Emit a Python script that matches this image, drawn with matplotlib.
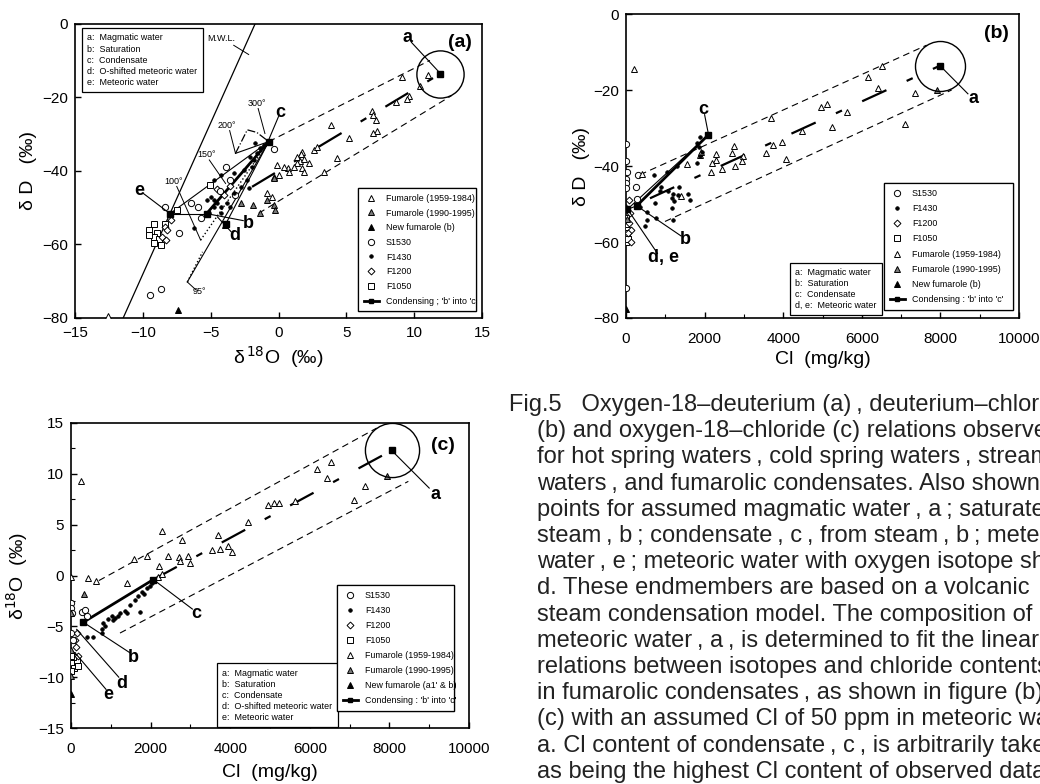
import matplotlib
matplotlib.use('Agg')
import matplotlib.pyplot as plt
from matplotlib.lines import Line2D
from matplotlib.ticker import MultipleLocator

plt.rcParams['font.family'] = ['Liberation Sans', 'DejaVu Sans']
plt.rcParams['mathtext.fontset'] = 'dejavusans'

# ---------------- Panel (a): d18O vs dD ----------------
a_fum1_x = [-12.55, 11.0, 9.12, 10.42, 9.61, 9.49, 8.63, 6.87, 6.99, 7.16, 3.88, 5.16, 7.24, 6.99,
            4.33, 3.37, 2.58, 2.83, 1.73, 1.65, 1.36, 1.6, 1.85, 1.36, 2.22, 1.12, 1.73, 1.85,
            0.68, 0.38, 0.75, -0.11, 0.01, -0.35, -0.48, -0.84]
a_fum1_y = [-79.5, -13.8, -14.3, -16.8, -19.7, -20.5, -21.1, -23.8, -24.7, -26.1, -27.5, -30.9,
            -29.0, -29.7, -36.5, -40.2, -34.3, -33.4, -34.7, -35.4, -36.1, -37.2, -36.8, -37.9,
            -37.9, -38.8, -39.3, -40.2, -39.3, -38.8, -40.2, -38.4, -41.1, -41.5, -47.0, -46.1]
a_fum2_x = [-2.8, -1.9, -1.33, -0.35, -0.28, -0.84, -0.35]
a_fum2_y = [-48.8, -49.3, -51.5, -49.3, -50.5, -47.9, -42.0]
a_new_x = [-7.38, -3.95]
a_new_y = [-77.7, -54.7]
a_s1530_x = [-0.35, -3.88, -3.54, -6.48, -5.94, -7.33, -8.68, -9.49, -8.36, -5.74, -4.3, -3.2]
a_s1530_y = [-34.1, -38.8, -42.5, -48.8, -49.7, -57.0, -72.0, -73.8, -49.7, -52.9, -45.5, -46.5]
a_f1430_x = [-5.0, -4.76, -4.5, -4.76, -4.27, -3.78, -3.29, -2.8, -2.31, -1.95, -1.82, -1.58, -1.33,
             -1.09, -1.7, -4.27, -4.76, -5.25, -6.23, -5.1, -4.27, -3.54, -2.19, -2.56, -2.07, -3.29]
a_f1430_y = [-47.0, -47.9, -48.8, -49.7, -49.7, -48.8, -46.1, -44.3, -42.5, -38.8, -37.0, -35.2, -33.8,
             -32.9, -32.5, -41.1, -42.5, -47.9, -55.6, -51.4, -51.5, -49.7, -44.7, -39.7, -36.1, -40.6]
a_f1200_x = [-8.36, -8.19, -8.56, -8.31, -7.95, -4.5, -4.0, -3.6]
a_f1200_y = [-55.2, -56.1, -57.9, -58.8, -53.4, -45.0, -46.5, -44.0]
a_f1050_x = [-9.54, -9.17, -8.93, -9.17, -8.8, -9.17, -8.68, -9.54, -7.46, -5.06, -8.36]
a_f1050_y = [-56.1, -54.5, -57.0, -57.9, -58.6, -59.5, -60.2, -57.5, -50.6, -43.8, -54.3]

a_mwl_x = [-11.45, -1.73]
a_mwl_y = [-80, 0]
a_end_names = ['a', 'b', 'c', 'd', 'e']
a_end_x = [11.94, -5.3, -0.72, -3.9, -8.0]
a_end_y = [-13.5, -51.6, -32.0, -54.5, -51.6]
a_lab_x = [9.5, -2.2, 0.1, -3.2, -10.3]
a_lab_y = [-3.8, -54.3, -24.0, -57.5, -45.4]
a_lead_x0 = [9.8, -2.6, 0.0, -3.5, -10.0]
a_lead_y0 = [-5.0, -53.5, -25.2, -56.5, -46.0]
a_lead_x1 = [11.94, -5.3, -0.72, -4.5, -8.0]
a_lead_y1 = [-13.5, -51.6, -31.5, -52.5, -51.6]
a_upper_x = [-0.72, 11.16]
a_upper_y = [-32.0, -9.9]
a_middle_x = [-1.95, 11.94]
a_middle_y = [-44.3, -13.5]
a_lower_x = [-1.46, 12.75]
a_lower_y = [-51.5, -19.5]
a_temp_lab = ['300°', '200°', '150°', '100°', '95°']
a_temp_x = [-1.6, -3.8, -5.3, -7.75, -5.8]
a_temp_y = [-21.5, -27.5, -35.6, -42.9, -72.9]
a_temp_lx0 = [-1.5, -3.6, -5.1, -7.5, -6.1]
a_temp_ly0 = [-23.0, -29.0, -37.0, -44.2, -72.3]
a_temp_lx1 = [-1.0, -3.17, -3.9, -5.74, -6.72]
a_temp_ly1 = [-29.8, -35.2, -43.4, -58.8, -70.2]
a_dashdot_x = [-3.17, -2.3, -1.6, -0.72]
a_dashdot_y = [-35.2, -28.8, -29.5, -32.0]

# ---------------- Panel (b): Cl vs dD ----------------
b_fum1_x = [212, 6505, 6166, 6404, 7354, 4962, 5123, 5632, 3681, 5242, 7099, 4470, 3749, 3961, 3562,
            2757, 2706, 2986, 2960, 2774, 2434, 2290, 2290, 2180, 2163, 1883, 1908, 1544, 4071, 1400, 399]
b_fum1_y = [-14.5, -13.8, -16.7, -19.5, -20.9, -24.5, -23.7, -25.9, -27.4, -29.8, -28.9, -30.9, -34.6,
            -33.6, -36.6, -34.7, -36.6, -37.5, -38.7, -40.1, -40.8, -36.8, -38.4, -39.3, -41.7, -37.1,
            -36.2, -39.5, -38.2, -48.0, -42.1]
b_fum2_x = [7905, 0, 20]
b_fum2_y = [-20.0, -50.7, -54.0]
b_new_x = [0]
b_new_y = [-77.7]
b_s1530_x = [0, 0, 34, 0, 0, 0, 0, 246, 314, 271]
b_s1530_y = [-34.2, -38.8, -41.5, -43.4, -44.5, -45.8, -72.1, -45.4, -42.5, -48.6]
b_f1430_x = [1883, 1798, 1866, 1883, 1815, 1925, 712, 1035, 1306, 891, 865, 738, 763, 526, 483,
             1060, 1162, 1204, 1230, 1162, 1204, 1332, 1348, 1586, 1628, 543, 356]
b_f1430_y = [-32.3, -34.0, -34.9, -37.5, -39.3, -36.2, -42.5, -41.7, -39.9, -45.6, -46.6, -49.8, -53.7,
             -54.2, -55.9, -46.7, -48.5, -47.4, -49.2, -51.1, -54.2, -47.6, -45.4, -47.4, -48.9, -52.2, -50.7]
b_f1200_x = [85, 119, 59, 119, 102, 85]
b_f1200_y = [-55.0, -56.8, -57.7, -59.9, -52.4, -48.9]
b_f1050_x = [0, 0, 34, 0, 34, 0, 40]
b_f1050_y = [-53.7, -55.5, -56.8, -57.7, -58.5, -60.1, -59.3]

b_end_names = ['a', 'b', 'c', 'd, e']
b_end_x = [7990, 271, 2095, 34]
b_end_y = [-13.6, -50.5, -31.8, -51.4]
b_lab_x = [8838, 1518, 1968, 950]
b_lab_y = [-22.2, -59.4, -25.2, -64.2]
b_lead_x0 = [8700, 1400, 2000, 800]
b_lead_y0 = [-21.0, -58.4, -26.5, -63.0]
b_lead_x1 = [7990, 290, 2095, 80]
b_lead_y1 = [-13.6, -50.6, -31.5, -52.0]
b_upper_x = [356, 7650]
b_upper_y = [-42.3, -8.2]
b_middle_x = [610, 7990]
b_middle_y = [-48.5, -13.6]
b_lower_x = [992, 8287]
b_lower_y = [-54.6, -20.0]

# ---------------- Panel (c): Cl vs d18O ----------------
c_fum1_x = [243, 0, 419, 620, 1399, 1583, 1901, 2278, 2178, 2200, 2290, 2446, 2781, 2714, 2739, 2948,
            2990, 3551, 3693, 3744, 3953, 4054, 4439, 4941, 5100, 5234, 5628, 6189, 6424, 6524, 7119, 7387]
c_fum1_y = [9.26, -0.1, -0.25, -0.5, -0.7, 1.6, 1.95, 4.4, -0.1, 0.9, 0.1, 1.95, 3.46, 1.79, 1.4, 1.95,
            1.23, 2.54, 4.0, 2.6, 2.93, 2.3, 5.3, 6.97, 7.13, 7.13, 7.3, 10.5, 9.6, 11.2, 7.4, 8.77]
c_fum2_x = [7948, 335, 0, 0, 0]
c_fum2_y = [9.75, -1.8, -3.7, -7.3, -9.9]
c_new_x = [0]
c_new_y = [-11.7]
c_s1530_x = [0, 0, 17, 268, 352, 394, 0, 50]
c_s1530_y = [-2.7, -3.2, -3.7, -3.6, -3.4, -4.0, -5.65, -6.3]
c_f1430_x = [394, 544, 770, 812, 938, 1022, 1106, 1189, 1231, 1357, 1399, 1482, 1608, 1692, 1776, 1834,
             1901, 1985, 2027, 1734, 770, 854, 1064]
c_f1430_y = [-6.0, -6.0, -5.3, -4.7, -4.3, -4.0, -4.2, -3.95, -3.7, -3.5, -3.7, -2.9, -2.4, -2.05, -1.66,
             -1.8, -1.2, -1.07, -0.74, -3.56, -5.65, -5.0, -4.34]
c_f1200_x = [101, 142, 184, 120]
c_f1200_y = [-6.3, -5.65, -7.95, -7.0]
c_f1050_x = [0, 75, 142, 0, 59, 184, 0]
c_f1050_y = [-8.6, -9.1, -8.3, -9.4, -8.0, -8.9, -7.9]

c_end_names = ['a', 'b', 'c', 'd', 'e']
c_end_x = [8057, 310, 2069, 142, 100]
c_end_y = [12.3, -4.6, -0.4, -5.3, -7.6]
c_lab_x = [9146, 1566, 3157, 1273, 938]
c_lab_y = [7.95, -8.1, -3.7, -10.6, -11.7]
c_lead_x0 = [9000, 1480, 3050, 1200, 880]
c_lead_y0 = [8.6, -7.6, -3.3, -10.0, -11.2]
c_upper_x = [700, 7680]
c_upper_y = [-0.5, 14.5]
c_middle_x = [2069, 8057]
c_middle_y = [-0.4, 12.3]
c_lower_x = [1231, 8476]
c_lower_y = [-5.66, 9.26]

caption_lines = [
    "Fig.5   Oxygen-18\u2013deuterium (a), deuterium\u2013chloride",
    "(b) and oxygen-18\u2013chloride (c) relations observed",
    "for hot spring waters, cold spring waters, stream",
    "waters, and fumarolic condensates. Also shown are",
    "points for assumed magmatic water, a; saturated",
    "steam, b; condensate, c, from steam, b; meteoric",
    "water, e; meteoric water with oxygen isotope shift,",
    "d. These endmembers are based on a volcanic",
    "steam condensation model. The composition of",
    "meteoric water, a, is determined to fit the linear",
    "relations between isotopes and chloride contents",
    "in fumarolic condensates, as shown in figure (b) and",
    "(c) with an assumed Cl of 50 ppm in meteoric water,",
    "a. Cl content of condensate, c, is arbitrarily taken",
    "as being the highest Cl content of observed data.",
]

# ---------------- styles ----------------
STY = {
    'fum1': dict(marker='^', ms=4.5, mfc='white', mec='k', mew=0.7, ls='none'),
    'fum2': dict(marker='^', ms=4.5, mfc='#7a7a7a', mec='k', mew=0.7, ls='none'),
    'new': dict(marker='^', ms=4.5, mfc='k', mec='k', mew=0.7, ls='none'),
    's1530': dict(marker='o', ms=4.5, mfc='white', mec='k', mew=0.7, ls='none'),
    'f1430': dict(marker='o', ms=2.6, mfc='k', mec='k', mew=0.5, ls='none'),
    'f1200': dict(marker='D', ms=3.5, mfc='white', mec='k', mew=0.7, ls='none'),
    'f1050': dict(marker='s', ms=4.5, mfc='white', mec='k', mew=0.7, ls='none'),
    'cond': dict(color='k', lw=2.0, marker='s', ms=3.5),
}
LEGFS = 6.4

W, H = 1040, 784
fig = plt.figure(figsize=(W / 100, H / 100), dpi=100)
fig.patch.set_facecolor('white')


def rect(l, t, r, b):
    return [l / W, 1 - b / H, (r - l) / W, (b - t) / H]


def scatter_all(ax, series):
    for key, xs, ys in series:
        ax.plot(xs, ys, zorder=4, **STY[key])


def envelope(ax, ux, uy, mx, my, lx, ly):
    ax.plot(ux, uy, color='k', lw=0.8, ls=(0, (6, 4)), zorder=2)
    ax.plot(lx, ly, color='k', lw=0.8, ls=(0, (6, 4)), zorder=2)
    ax.plot(mx, my, color='k', lw=1.6, ls=(0, (12, 10, 3, 10)), zorder=2)


def endmembers(ax, names, ex, ey, lx, ly, l0x, l0y, l1x, l1y, fs=13):
    for n, x, y, tx, ty, x0, y0, x1, y1 in zip(names, ex, ey, lx, ly, l0x, l0y, l1x, l1y):
        ax.plot([x], [y], marker='s', ms=4.5, color='k', ls='none', zorder=6)
        ax.plot([x0, x1], [y0, y1], color='k', lw=0.8, zorder=5)
        ax.text(tx, ty, n, fontsize=fs, fontweight='bold', ha='center', va='center', zorder=7)


def circle(ax, x, y, size):
    ax.plot([x], [y], marker='o', ms=size, mfc='none', mec='k', mew=1.0, ls='none', zorder=5)


def marker_legend(ax, keys, labels, x0, y0, x1, y1, spacing):
    handles = [Line2D([], [], **STY[k]) for k in keys]
    leg = ax.legend(handles, labels, loc='upper left', bbox_to_anchor=(x0, y0, x1 - x0, y1 - y0),
                    mode='expand', fontsize=LEGFS, frameon=True, fancybox=False, edgecolor='k',
                    framealpha=1, borderpad=0.65, labelspacing=spacing, handlelength=1.7,
                    handletextpad=0.8, numpoints=1, borderaxespad=0)
    leg.get_frame().set_linewidth(0.9)
    leg.set_zorder(10)
    ax.add_artist(leg)


def text_box(ax, x, y, txt, ls):
    ax.text(x, y, txt, transform=ax.transAxes, fontsize=LEGFS, va='top', ha='left', linespacing=ls,
            zorder=10, bbox=dict(boxstyle='square,pad=0.6', fc='white', ec='k', lw=0.9))


def style_axes(ax, xpad=5):
    for s in ax.spines.values():
        s.set_linewidth(1.2)
    ax.tick_params(direction='in', length=4, width=1, labelsize=11, pad=5)
    ax.tick_params(axis='x', pad=xpad)
    ax.tick_params(which='minor', direction='in', length=3, width=0.8)


# ================= (a) =================
axA = fig.add_axes(rect(75, 24, 482, 318))
style_axes(axA, 6)
axA.set_xlim(-15, 15)
axA.set_ylim(-80, 0)
axA.set_xticks([-15, -10, -5, 0, 5, 10, 15])
axA.set_xticklabels(['\u221215', '\u221210', '\u22125', '0', '5', '10', '15'])
axA.set_yticks([0, -20, -40, -60, -80])
axA.set_yticklabels(['0', '\u221220', '\u221240', '\u221260', '\u221280'])
axA.set_xlabel('\u03b4$^{\\,18}$O  (\u2030)', fontsize=14, labelpad=3)
axA.set_ylabel('\u03b4 D   (\u2030)', fontsize=14, labelpad=4)
axA.plot(a_mwl_x, a_mwl_y, color='k', lw=0.9, zorder=2)
axA.text(-4.25, -4.0, 'M.W.L.', fontsize=6.5, ha='center', va='center')
axA.plot([-3.3, -2.2], [-5.8, -8.3], color='k', lw=0.7)
envelope(axA, a_upper_x, a_upper_y, a_middle_x, a_middle_y, a_lower_x, a_lower_y)
cx, cy = a_end_x[2], a_end_y[2]
# mixing / condensation lines converging on c
axA.plot([a_end_x[4], cx], [a_end_y[4], cy], color='k', lw=0.8, zorder=3)
axA.plot([a_end_x[3], cx], [a_end_y[3], cy], color='k', lw=0.8, zorder=3)
axA.plot([a_end_x[4], a_end_x[1]], [a_end_y[4], a_end_y[1]], color='k', lw=0.8, zorder=3)
axA.plot([a_end_x[1], cx], [a_end_y[1], cy], color='k', lw=2.0, zorder=3)
axA.plot([a_temp_lx1[4], cx], [a_temp_ly1[4], cy], color='k', lw=0.8, zorder=3)
axA.plot([a_temp_lx1[4], -5.6], [a_temp_ly1[4], -62.0], color='k', lw=1.0, ls=':', zorder=3)
axA.plot([a_temp_lx1[3], cx], [a_temp_ly1[3], cy], color='k', lw=1.0, ls=':', zorder=3)
axA.plot(a_dashdot_x, a_dashdot_y, color='k', lw=0.9, ls='-.', zorder=3)
axA.plot([a_dashdot_x[0], cx], [a_dashdot_y[0], cy], color='k', lw=0.8, zorder=3)
for t, tx, ty, x0, y0, x1, y1 in zip(a_temp_lab, a_temp_x, a_temp_y, a_temp_lx0, a_temp_ly0,
                                      a_temp_lx1, a_temp_ly1):
    axA.text(tx, ty, t, fontsize=6.5, ha='center', va='center', zorder=7)
    axA.plot([x0, x1], [y0, y1], color='k', lw=0.7, zorder=5)
scatter_all(axA, [('f1050', a_f1050_x, a_f1050_y), ('f1200', a_f1200_x, a_f1200_y),
                  ('s1530', a_s1530_x, a_s1530_y), ('fum1', a_fum1_x, a_fum1_y),
                  ('fum2', a_fum2_x, a_fum2_y), ('new', a_new_x, a_new_y),
                  ('f1430', a_f1430_x, a_f1430_y)])
circle(axA, a_end_x[0], a_end_y[0], 34)
endmembers(axA, a_end_names, a_end_x, a_end_y, a_lab_x, a_lab_y, a_lead_x0, a_lead_y0,
           a_lead_x1, a_lead_y1)
axA.text(0.975, 0.965, '(a)', transform=axA.transAxes, fontsize=14, fontweight='bold',
         ha='right', va='top')
text_box(axA, 0.03, 0.968, "a:  Magmatic water\nb:  Saturation\nc:  Condensate\n"
         "d:  O-shifted meteoric water\ne:  Meteoric water", 1.3)
marker_legend(axA, ['fum1', 'fum2', 'new', 's1530', 'f1430', 'f1200', 'f1050', 'cond'],
              ['Fumarole (1959-1984)', 'Fumarole (1990-1995)', 'New fumarole (b)', 'S1530',
               'F1430', 'F1200', 'F1050', "Condensing ; 'b' into 'c'"],
              0.695, 0.034, 0.985, 0.442, 0.64)

# ================= (b) =================
axB = fig.add_axes(rect(626, 14, 1019, 318))
style_axes(axB, 10)
axB.set_xlim(0, 10000)
axB.set_ylim(-80, 0)
axB.xaxis.set_major_locator(MultipleLocator(2000))
axB.xaxis.set_minor_locator(MultipleLocator(1000))
axB.set_yticks([0, -20, -40, -60, -80])
axB.set_yticklabels(['0', '\u221220', '\u221240', '\u221260', '\u221280'])
axB.set_xlabel('Cl  (mg/kg)', fontsize=14, labelpad=4)
axB.set_ylabel('\u03b4 D   (\u2030)', fontsize=14, labelpad=2)
envelope(axB, b_upper_x, b_upper_y, b_middle_x, b_middle_y, b_lower_x, b_lower_y)
axB.plot([b_end_x[1], b_end_x[2]], [b_end_y[1], b_end_y[2]], color='k', lw=2.0, zorder=3)
axB.plot([b_end_x[3], b_end_x[2]], [b_end_y[3], b_end_y[2]], color='k', lw=0.8, zorder=3)
axB.plot([b_end_x[3], b_end_x[1]], [b_end_y[3], b_end_y[1]], color='k', lw=0.8, zorder=3)
scatter_all(axB, [('f1050', b_f1050_x, b_f1050_y), ('f1200', b_f1200_x, b_f1200_y),
                  ('s1530', b_s1530_x, b_s1530_y), ('fum1', b_fum1_x, b_fum1_y),
                  ('fum2', b_fum2_x, b_fum2_y), ('new', b_new_x, b_new_y),
                  ('f1430', b_f1430_x, b_f1430_y)])
circle(axB, b_end_x[0], b_end_y[0], 36)
endmembers(axB, b_end_names, b_end_x, b_end_y, b_lab_x, b_lab_y, b_lead_x0, b_lead_y0,
           b_lead_x1, b_lead_y1)
axB.text(0.975, 0.965, '(b)', transform=axB.transAxes, fontsize=14, fontweight='bold',
         ha='right', va='top')
text_box(axB, 0.43, 0.165, "a:  Magmatic water\nb:  Saturation\nc:  Condensate\nd, e:  Meteoric water", 1.3)
marker_legend(axB, ['s1530', 'f1430', 'f1200', 'f1050', 'fum1', 'fum2', 'new', 'cond'],
              ['S1530', 'F1430', 'F1200', 'F1050', 'Fumarole (1959-1984)', 'Fumarole (1990-1995)',
               'New fumarole (b)', "Condensing : 'b' into 'c'"],
              0.656, 0.02, 0.985, 0.444, 0.7)

# ================= (c) =================
axC = fig.add_axes(rect(71, 423, 469, 728))
style_axes(axC, 10)
axC.set_xlim(0, 10000)
axC.set_ylim(-15, 15)
axC.xaxis.set_major_locator(MultipleLocator(2000))
axC.xaxis.set_minor_locator(MultipleLocator(1000))
axC.set_yticks([-15, -10, -5, 0, 5, 10, 15])
axC.set_yticklabels(['\u221215', '\u221210', '\u22125', '0', '5', '10', '15'])
axC.yaxis.set_minor_locator(MultipleLocator(2.5))
axC.set_xlabel('Cl  (mg/kg)', fontsize=14, labelpad=6)
axC.set_ylabel('\u03b4$^{18}$O  (\u2030)', fontsize=14, labelpad=6)
envelope(axC, c_upper_x, c_upper_y, c_middle_x, c_middle_y, c_lower_x, c_lower_y)
axC.plot([c_end_x[1], c_end_x[2]], [c_end_y[1], c_end_y[2]], color='k', lw=2.0, zorder=3)
scatter_all(axC, [('f1050', c_f1050_x, c_f1050_y), ('f1200', c_f1200_x, c_f1200_y),
                  ('s1530', c_s1530_x, c_s1530_y), ('fum1', c_fum1_x, c_fum1_y),
                  ('fum2', c_fum2_x, c_fum2_y), ('new', c_new_x, c_new_y),
                  ('f1430', c_f1430_x, c_f1430_y)])
circle(axC, c_end_x[0], c_end_y[0], 39)
for i, (n, x, y, tx, ty, x0, y0) in enumerate(zip(c_end_names, c_end_x, c_end_y, c_lab_x, c_lab_y,
                                                  c_lead_x0, c_lead_y0)):
    if i < 3:
        axC.plot([x], [y], marker='s', ms=4.5, color='k', ls='none', zorder=6)
    axC.plot([x0, x], [y0, y], color='k', lw=0.8, zorder=5)
    axC.text(tx, ty, n, fontsize=13, fontweight='bold', ha='center', va='center', zorder=7)
axC.text(0.965, 0.955, '(c)', transform=axC.transAxes, fontsize=14, fontweight='bold',
         ha='right', va='top')
text_box(axC, 0.38, 0.195, "a:  Magmatic water\nb:  Saturation\nc:  Condensate\n"
         "d:  O-shifted meteoric water\ne:  Meteoric water", 1.3)
marker_legend(axC, ['s1530', 'f1430', 'f1200', 'f1050', 'fum1', 'fum2', 'new', 'cond'],
              ['S1530', 'F1430', 'F1200', 'F1050', 'Fumarole (1959-1984)', 'Fumarole (1990-1995)',
               "New fumarole (a1' & b)", "Condensing : 'b' into 'c'"],
              0.668, 0.016, 0.962, 0.469, 0.68)

# ================= caption (runs off the right edge, as in the scanned page) =================
for i, line in enumerate(caption_lines):
    x = 509 if i == 0 else 537
    spaced = line.replace(',', '\u2009,').replace(';', '\u2009;')
    fig.text(x / W, 1 - (405 + i * 26.2) / H, spaced, fontsize=17, va='center', ha='left',
             color='#222222')

fig.savefig('out.png', dpi=100)
